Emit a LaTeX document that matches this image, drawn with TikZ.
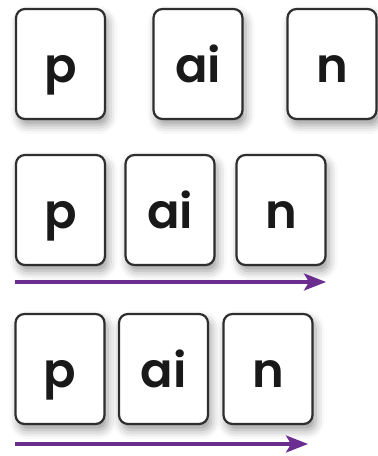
\documentclass[tikz,border=0pt]{standalone}
\usepackage{fontspec}
\setmainfont{Poppins}[UprightFont=* SemiBold, BoldFont=* SemiBold]
\usetikzlibrary{arrows.meta,shadows.blur}
\definecolor{cardline}{HTML}{2E2E2E}
\definecolor{arrowpurple}{HTML}{6B2D8F}
\tikzset{
  card/.style={draw=cardline, line width=2.2pt, rounded corners=9pt, fill=white,
    minimum width=89pt, minimum height=110pt, inner sep=0pt,
    blur shadow={shadow xshift=3pt, shadow yshift=-6pt, shadow blur radius=9pt, shadow opacity=40}},
  letters/.style={anchor=base, font=\fontsize{48}{48}\selectfont, text=black!90, inner sep=0pt},
  seqarrow/.style={draw=arrowpurple, line width=3.2pt, -{Stealth[length=22pt,width=17pt,inset=5pt]}}
}
\begin{document}
\begin{tikzpicture}[x=1pt,y=1pt]
\useasboundingbox (0,0) rectangle (378,456);
% row 1
\node[card] (a1) at (60.5,392) {};
\node[card] (b1) at (198,392) {};
\node[card] (c1) at (332,392) {};
% row 2
\node[card] (a2) at (60.5,246) {};
\node[card] (b2) at (170,246) {};
\node[card] (c2) at (281,246) {};
% row 3
\node[card] (a3) at (60,87) {};
\node[card] (b3) at (163.5,87) {};
\node[card] (c3) at (268,87) {};
% letters
\foreach \n/\t in {a1/p,b1/ai,c1/n,a2/p,b2/ai,c2/n,a3/p,b3/ai,c3/n}{
  \node[letters] (t\n) at ([yshift=-19pt]\n.center) {\t};
}
% arrows
\coordinate (s2) at (15,174);
\coordinate (e2) at (326,174);
\coordinate (s3) at (15,12);
\coordinate (e3) at (308,12);
\draw[seqarrow] (s2) -- (e2);
\draw[seqarrow] (s3) -- (e3);
\end{tikzpicture}
\end{document}
